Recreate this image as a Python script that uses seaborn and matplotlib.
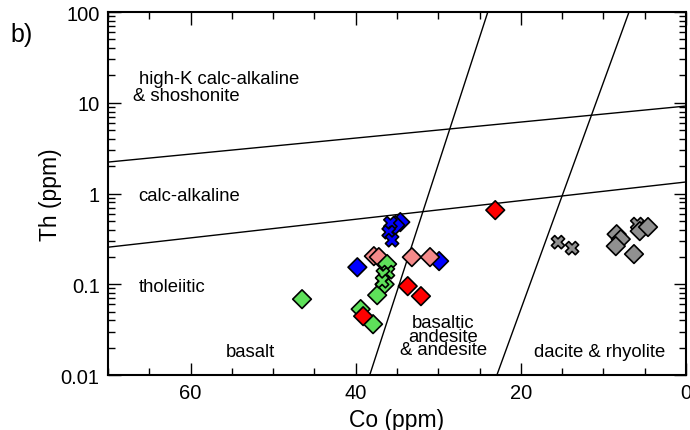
import matplotlib
matplotlib.use("Agg")
import matplotlib.pyplot as plt
import seaborn as sns
import numpy as np
import pandas as pd
from matplotlib.ticker import MultipleLocator, LogLocator, FixedLocator, FixedFormatter, NullFormatter

# ---------------- data ----------------
blue_d_co = [34.6, 35.2, 39.8, 29.9]
blue_d_th = [0.484, 0.449, 0.154, 0.180]
blue_x_co = [35.8, 36.0, 35.6]
blue_x_th = [0.472, 0.375, 0.306]
pink_d_co = [37.8, 37.2, 33.2, 31.0]
pink_d_th = [0.204, 0.199, 0.199, 0.199]
green_d_co = [36.2, 36.5, 37.4, 39.4, 37.9, 46.5]
green_d_th = [0.167, 0.100, 0.0758, 0.0532, 0.0363, 0.0685]
green_x_co = [36.1, 36.7, 36.8]
green_x_th = [0.136, 0.129, 0.108]
red_d_co = [33.7, 32.1, 39.1, 23.1]
red_d_th = [0.0953, 0.0739, 0.0445, 0.656]
gray_x_co = [15.5, 13.8, 5.9]
gray_x_th = [0.291, 0.250, 0.460]
gray_d_co = [8.4, 7.9, 8.5, 6.3, 5.6, 4.6]
gray_d_th = [0.356, 0.314, 0.263, 0.215, 0.385, 0.427]

# discrimination boundaries (Co, Th endpoints)
line_hk_co = [70, 0]
line_hk_th = [2.22, 9.2]
line_ca_co = [70, 0]
line_ca_th = [0.256, 1.34]
line_ba_co = [38.3, 24.0]
line_ba_th = [0.01, 100]
line_da_co = [22.9, 6.9]
line_da_th = [0.01, 100]

groups = [
    ("blue", "D", blue_d_co, blue_d_th),
    ("blue", "X", blue_x_co, blue_x_th),
    ("pink", "D", pink_d_co, pink_d_th),
    ("green", "D", green_d_co, green_d_th),
    ("green", "X", green_x_co, green_x_th),
    ("red", "D", red_d_co, red_d_th),
    ("gray", "X", gray_x_co, gray_x_th),
    ("gray", "D", gray_d_co, gray_d_th),
]
rows = []
for c, m, xs, ys in groups:
    for x, y in zip(xs, ys):
        rows.append({"Co": x, "Th": y, "grp": c, "mk": m})
df = pd.DataFrame(rows)

palette = {"blue": "#0000ff", "pink": "#f48a8a", "green": "#5ee05a",
           "red": "#ff0000", "gray": "#909090"}
markers = {"D": "D", "X": "X"}

sns.set_style("white")
plt.rcParams["font.family"] = ["Liberation Sans", "DejaVu Sans"]
plt.rcParams["text.color"] = "black"
plt.rcParams["axes.labelcolor"] = "black"
plt.rcParams["xtick.color"] = "black"
plt.rcParams["ytick.color"] = "black"

fig = plt.figure(figsize=(6.9, 4.31), dpi=100)
ax = fig.add_axes([0.1565, 0.1276, 0.8377, 0.8422])

for (x0, x1), (y0, y1) in [(line_hk_co, line_hk_th), (line_ca_co, line_ca_th),
                           (line_ba_co, line_ba_th), (line_da_co, line_da_th)]:
    ax.plot([x0, x1], [y0, y1], color="black", lw=1.0, zorder=1)

sns.scatterplot(data=df, x="Co", y="Th", hue="grp", style="mk", palette=palette,
                markers=markers, s=90, edgecolor="black", linewidth=1.2,
                legend=False, ax=ax, zorder=3)

ax.set_yscale("log")
ax.set_xlim(70, 0)
ax.set_ylim(0.01, 100)

ax.xaxis.set_major_locator(MultipleLocator(20))
ax.xaxis.set_minor_locator(MultipleLocator(5))
ax.yaxis.set_major_locator(FixedLocator([0.01, 0.1, 1, 10, 100]))
ax.yaxis.set_major_formatter(FixedFormatter(["0.01", "0.1", "1", "10", "100"]))
ax.yaxis.set_minor_locator(LogLocator(base=10, subs=np.arange(2, 10)))
ax.yaxis.set_minor_formatter(NullFormatter())

ax.tick_params(which="both", direction="in", top=True, right=True, bottom=True, left=True,
               color="black", width=1.0)
ax.tick_params(which="major", length=9, labelsize=14.5, pad=6)
ax.tick_params(which="minor", length=5)
for sp in ax.spines.values():
    sp.set_color("black")
    sp.set_linewidth(1.5)

ax.set_xlabel("Co (ppm)", fontsize=16.5, labelpad=4)
ax.set_ylabel("Th (ppm)", fontsize=16.5, labelpad=-1)

tfs = 13.3
ax.text(66.3, 18.7, "high-K calc-alkaline", fontsize=tfs, ha="left", va="center")
ax.text(67.0, 11.9, "& shoshonite", fontsize=tfs, ha="left", va="center")
ax.text(66.3, 0.96, "calc-alkaline", fontsize=tfs, ha="left", va="center")
ax.text(66.3, 0.095, "tholeiitic", fontsize=tfs, ha="left", va="center")
ax.text(52.8, 0.0183, "basalt", fontsize=tfs, ha="center", va="center")
ax.text(29.4, 0.0268, "basaltic\nandesite\n& andesite", fontsize=tfs, ha="center",
        va="center", linespacing=0.72)
ax.text(10.4, 0.0183, "dacite & rhyolite", fontsize=tfs, ha="center", va="center")

fig.text(0.0145, 0.919, "b)", fontsize=18, ha="left", va="center")

fig.savefig("out.png", dpi=100)
